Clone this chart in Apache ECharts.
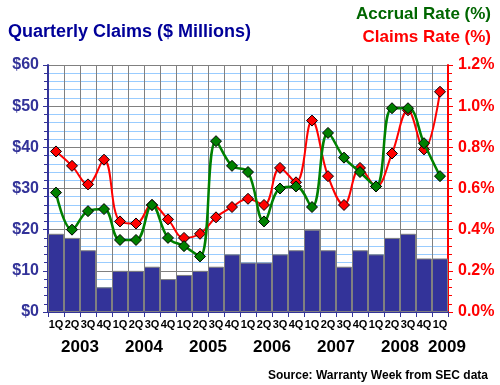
<!DOCTYPE html>
<html>
<head>
<meta charset="utf-8">
<script src="https://cdn.jsdelivr.net/npm/echarts@6/dist/echarts.min.js"></script>
<style>html,body{margin:0;padding:0;background:#fff}#c{width:500px;height:385px}</style>
</head>
<body>
<div id="c"></div>
<script>
const quarters = ['1Q','2Q','3Q','4Q','1Q','2Q','3Q','4Q','1Q','2Q','3Q','4Q','1Q','2Q','3Q','4Q','1Q','2Q','3Q','4Q','1Q','2Q','3Q','4Q','1Q'];
const years = ['2003','2004','2005','2006','2007','2008','2009'];
const claims = [19,18,15,6, 10,10,11,8, 9,10,11,14, 12,12,14,15, 20,15,11,15, 14,18,19,13, 13];
const accrualRate = [0.58,0.40,0.49,0.50, 0.35,0.35,0.52,0.36, 0.32,0.27,0.83,0.71, 0.68,0.44,0.60,0.61, 0.51,0.87,0.75,0.68, 0.61,0.99,0.99,0.82, 0.66];
const claimsRate = [0.78,0.71,0.62,0.74, 0.44,0.43,0.52,0.45, 0.36,0.38,0.46,0.51, 0.55,0.52,0.70,0.63, 0.93,0.66,0.52,0.70, 0.61,0.77,0.98,0.79, 1.07];
const leftTicks = {min:0, max:60, interval:10};
const rightTicks = {min:0, max:1.2, interval:0.2};

const FONT = '"Liberation Sans", Arial, sans-serif';
const chart = echarts.init(document.getElementById('c'), null, {renderer:'canvas'});

const yearCats = quarters.map((q, i) => 'q' + i);
function yearFormatter(v, i) {
  if (i === quarters.length - 1) return '{b|' + years[years.length - 1] + '}';
  if (i % 4 === 1) return '{a|' + years[(i - 1) / 4] + '}';
  return '';
}

chart.setOption({
  animation: false,
  backgroundColor: '#ffffff',
  title: [
    {text: 'Quarterly Claims ($ Millions)', left: 3, top: 18,
     textStyle: {color: '#000099', fontFamily: FONT, fontWeight: 'bold', fontSize: 18}},
    {text: 'Accrual Rate (%)', right: 4, top: 1,
     textStyle: {color: '#006600', fontFamily: FONT, fontWeight: 'bold', fontSize: 17}},
    {text: 'Claims Rate (%)', right: 4, top: 24,
     textStyle: {color: '#ff0000', fontFamily: FONT, fontWeight: 'bold', fontSize: 17}},
    {text: 'Source: Warranty Week from SEC data', right: 7, top: 365,
     textStyle: {color: '#000000', fontFamily: FONT, fontWeight: 'bold', fontSize: 12}}
  ],
  grid: {left: 48, right: 52, top: 65, bottom: 73, containLabel: false},
  xAxis: [
    {
      type: 'category', data: quarters, boundaryGap: true, position: 'bottom',
      axisLine: {show: true, lineStyle: {color: '#333399', width: 2}},
      axisTick: {show: true, interval: 0, length: 5, lineStyle: {color: '#333399'}},
      axisLabel: {interval: 0, color: '#000000', fontFamily: FONT, fontWeight: 'bold', fontSize: 11, margin: 7},
      splitLine: {show: true, interval: 0, lineStyle: {color: '#808080', width: 1}}
    },
    {
      type: 'category', data: yearCats, boundaryGap: true, position: 'bottom', offset: 20,
      axisLine: {show: false}, axisTick: {show: false}, splitLine: {show: false},
      axisLabel: {interval: 0, formatter: yearFormatter, margin: 7,
        rich: {
          a: {color: '#000000', fontFamily: FONT, fontWeight: 'bold', fontSize: 17, padding: [0,0,0,16]},
          b: {color: '#000000', fontFamily: FONT, fontWeight: 'bold', fontSize: 17, padding: [0,0,0,14]}
        }}
    }
  ],
  yAxis: [
    {
      type: 'value', min: leftTicks.min, max: leftTicks.max, interval: leftTicks.interval, position: 'left',
      axisLine: {show: true, lineStyle: {color: '#333399', width: 2}},
      axisTick: {show: true, length: 5, lineStyle: {color: '#333399'}},
      minorTick: {show: true, splitNumber: 5, length: 4, lineStyle: {color: '#333399'}},
      axisLabel: {formatter: v => '$' + v, color: '#333399', fontFamily: FONT, fontWeight: 'bold', fontSize: 16, margin: 9},
      splitLine: {show: true, lineStyle: {color: '#808080', width: 1}},
      minorSplitLine: {show: true, lineStyle: {color: '#99ccff', width: 1}}
    },
    {
      type: 'value', min: rightTicks.min, max: rightTicks.max, interval: rightTicks.interval, position: 'right',
      axisLine: {show: true, lineStyle: {color: '#ff0000', width: 2}},
      axisTick: {show: true, length: 5, lineStyle: {color: '#ff0000'}},
      minorTick: {show: true, splitNumber: 5, length: 4, lineStyle: {color: '#ff0000'}},
      axisLabel: {formatter: v => v.toFixed(1) + '%', color: '#ff0000', fontFamily: FONT, fontWeight: 'bold', fontSize: 16, margin: 10},
      splitLine: {show: false}
    }
  ],
  series: [
    {
      name: 'Quarterly Claims', type: 'bar', data: claims, xAxisIndex: 0, yAxisIndex: 0,
      barCategoryGap: '0%', barGap: '0%',
      itemStyle: {color: '#333399', borderColor: '#808080', borderWidth: 1},
      z: 2
    },
    {
      name: 'Claims Rate (%)', type: 'line', data: claimsRate, xAxisIndex: 0, yAxisIndex: 1,
      smooth: 0.4, symbol: 'diamond', symbolSize: 11,
      lineStyle: {color: '#ff0000', width: 2},
      itemStyle: {color: '#ff0000', borderColor: '#000000', borderWidth: 1},
      z: 3
    },
    {
      name: 'Accrual Rate (%)', type: 'line', data: accrualRate, xAxisIndex: 0, yAxisIndex: 1,
      smooth: 0.4, symbol: 'diamond', symbolSize: 11,
      lineStyle: {color: '#008000', width: 2.5},
      itemStyle: {color: '#008000', borderColor: '#000000', borderWidth: 1},
      z: 4
    }
  ]
});
</script>
</body>
</html>
